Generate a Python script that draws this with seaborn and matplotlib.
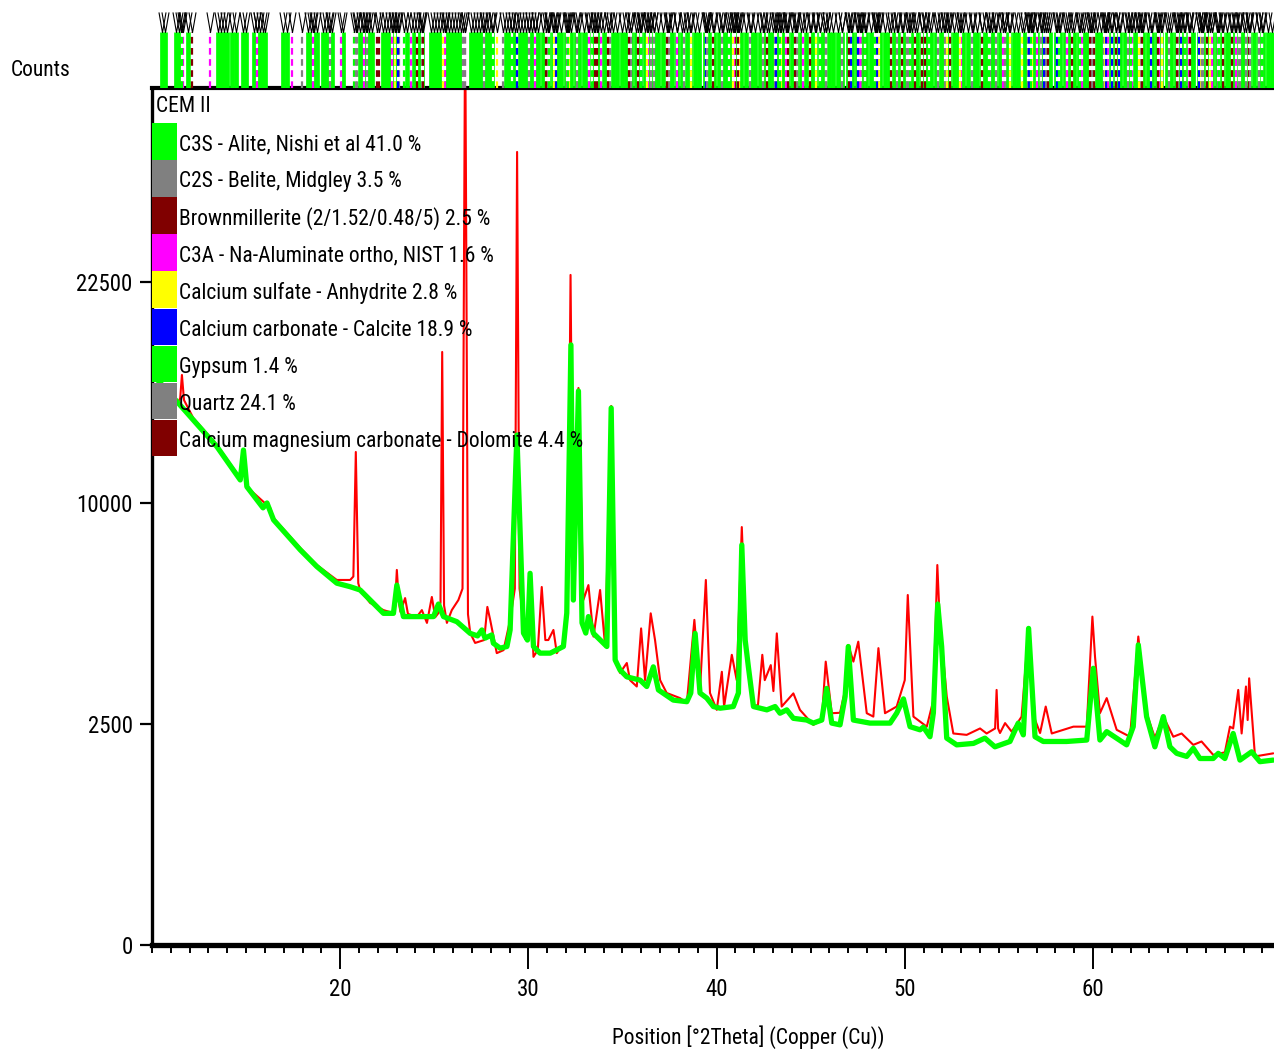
import numpy as np
import matplotlib
matplotlib.use("Agg")
import matplotlib.pyplot as plt
from matplotlib import font_manager as fm
from matplotlib.path import Path
from matplotlib.patches import Rectangle
from matplotlib.ticker import FixedLocator, MultipleLocator, NullLocator
import seaborn as sns

# ---- measured pattern (2theta in degrees, counts) ----
obs_2theta = [10.00, 11.39, 11.50, 11.59, 11.70, 12.19, 13.45, 14.69, 14.86, 15.04, 15.22, 16.28, 16.46,
              17.88, 18.76, 19.82, 20.53, 20.70, 20.83, 20.96, 21.06, 21.59, 22.30, 22.83, 22.92, 23.01,
              23.12, 23.20, 23.45, 23.60, 24.07, 24.34, 24.61, 24.87, 25.05, 25.22, 25.33, 25.42, 25.52,
              25.67, 25.93, 26.28, 26.50, 26.64, 26.79, 26.91, 27.17, 27.65, 27.82, 27.97, 28.32, 28.68,
              29.03, 29.28, 29.40, 29.53, 29.74, 29.95, 30.09, 30.27, 30.50, 30.71, 30.90, 31.06, 31.33,
              31.51, 31.86, 32.10, 32.24, 32.39, 32.66, 32.92, 33.19, 33.46, 33.81, 34.08, 34.40, 34.61,
              34.87, 35.23, 35.40, 35.76, 35.99, 36.20, 36.50, 36.73, 37.00, 37.35, 38.06, 38.42, 38.82,
              39.12, 39.43, 39.65, 40.01, 40.28, 40.40, 40.81, 41.07, 41.34, 41.60, 41.96, 42.20, 42.43,
              42.56, 42.88, 43.02, 43.20, 43.46, 44.08, 44.43, 45.14, 45.59, 45.80, 46.12, 46.56, 46.83,
              47.00, 47.27, 47.53, 47.98, 48.33, 48.60, 48.95, 49.57, 50.00, 50.16, 50.46, 51.17, 51.52,
              51.73, 51.85, 52.23, 52.58, 53.29, 54.00, 54.35, 54.80, 54.88, 54.96, 55.06, 55.33, 55.68,
              56.21, 56.58, 56.92, 57.19, 57.49, 57.81, 58.96, 59.67, 59.97, 60.11, 60.37, 60.73, 61.26,
              61.97, 62.41, 62.85, 63.29, 63.74, 64.27, 64.71, 65.33, 65.77, 66.39, 67.01, 67.28, 67.45,
              67.72, 67.90, 68.13, 68.22, 68.30, 68.61, 69.58]
obs_counts = [16700, 15040, 15320, 16630, 15200, 14220, 12800, 11160, 12440, 10780, 10600, 9780, 9330,
              8070, 7390, 6820, 6820, 6950, 12440, 6700, 6450, 5990, 5740, 5640, 6000, 7200,
              6000, 5680, 6160, 5610, 5510, 5740, 5310, 6200, 5500, 5640, 6000, 18000, 5900,
              5310, 5740, 6090, 6500, 45000, 5600, 4980, 4670, 4760, 5850, 5410, 4360, 4450,
              5410, 6500, 32190, 6500, 5410, 4760, 7120, 4250, 4450, 6560, 4760, 4760, 5080,
              4360, 4670, 6090, 22980, 6090, 15880, 6090, 6630, 4870, 6450, 4560, 14870, 4160,
              3790, 4070, 3590, 3420, 5130, 3590, 5630, 4760, 3590, 3250, 3120, 3000, 5410,
              3330, 6820, 3250, 2830, 3820, 2910, 4310, 3590, 8940, 4250, 2910, 2950, 4310,
              3590, 4010, 3300, 4970, 2910, 3240, 2830, 2480, 2590, 4110, 2750, 2760, 3330,
              4610, 4110, 4710, 2750, 2670, 4510, 2750, 2910, 3590, 6270, 2670, 2440, 3070,
              7390, 5500, 3160, 2290, 2260, 2400, 2290, 2400, 3330, 2400, 2300, 2520, 2330,
              2670, 5140, 2600, 2300, 2910, 2290, 2440, 2440, 5520, 4250, 2750, 3120, 2370,
              2220, 4870, 2750, 2200, 2670, 2220, 2290, 2050, 2120, 1850, 1900, 2440, 2400,
              3330, 2290, 3420, 2590, 3640, 1820, 1880]

# ---- calculated (fitted) pattern ----
calc_2theta = [10.00, 11.39, 12.19, 13.45, 14.69, 14.86, 15.04, 15.90, 16.11, 16.46, 17.88, 18.76, 19.82,
               20.53, 21.06, 22.30, 22.83, 23.01, 23.36, 24.96, 25.22, 25.49, 26.20, 26.91, 27.30, 27.53,
               27.70, 28.05, 28.14, 28.50, 28.86, 29.03, 29.39, 29.74, 29.95, 30.09, 30.27, 30.62, 31.16,
               31.86, 32.04, 32.26, 32.39, 32.66, 32.85, 33.05, 33.19, 33.46, 33.99, 34.17, 34.40, 34.61,
               34.87, 35.23, 35.94, 36.29, 36.64, 36.91, 37.70, 38.42, 38.63, 38.86, 39.12, 39.48, 39.83,
               40.19, 40.89, 41.16, 41.34, 41.52, 41.69, 41.96, 42.67, 43.11, 43.37, 43.73, 44.08, 44.79,
               45.14, 45.59, 45.85, 46.12, 46.56, 46.83, 47.00, 47.27, 48.15, 49.22, 49.57, 49.93, 50.28,
               50.81, 50.99, 51.34, 51.52, 51.75, 51.96, 52.23, 52.76, 53.65, 54.26, 54.79, 55.59, 56.03,
               56.30, 56.58, 56.92, 57.36, 58.60, 59.67, 60.02, 60.37, 60.73, 61.79, 62.14, 62.41, 62.85,
               63.29, 63.74, 64.09, 64.45, 64.98, 65.33, 65.68, 66.39, 66.66, 67.01, 67.45, 67.81, 68.43,
               68.87, 69.58]
calc_counts = [16700, 15040, 14110, 12710, 11070, 12540, 10750, 9780, 10000, 9250, 7990, 7330, 6700,
               6570, 6450, 5630, 5630, 6630, 5520, 5520, 5950, 5520, 5350, 4970, 4890, 5080,
               4820, 4920, 4660, 4510, 4560, 5080, 13310, 4980, 4760, 7070, 4560, 4360, 4360,
               4560, 5640, 18430, 6090, 15710, 5310, 4980, 5520, 4970, 4660, 4560, 14760, 4160,
               3870, 3680, 3590, 3420, 3960, 3330, 3070, 3030, 3250, 4970, 3250, 3120, 2910,
               2870, 2910, 3250, 8190, 4760, 3960, 2910, 2830, 2910, 2750, 2830, 2630, 2590,
               2520, 2590, 3370, 2520, 2480, 3160, 4560, 2590, 2520, 2520, 2750, 3100, 2440,
               2370, 2430, 2220, 2760, 5950, 4560, 2190, 2050, 2080, 2190, 2010, 2120, 2520,
               2260, 5130, 2220, 2120, 2120, 2150, 3920, 2150, 2330, 2050, 2440, 4610, 2670,
               2010, 2670, 2010, 1880, 1820, 1980, 1780, 1780, 1880, 1780, 2290, 1750, 1910,
               1720, 1750]

# ---- phases and reference stick positions (2theta) ----
sample_name = "CEM II"
phase_names = ["C3S - Alite, Nishi et al", "C2S - Belite, Midgley", "Brownmillerite (2/1.52/0.48/5)",
               "C3A - Na-Aluminate ortho, NIST", "Calcium sulfate - Anhydrite",
               "Calcium carbonate - Calcite", "Gypsum", "Quartz",
               "Calcium magnesium carbonate - Dolomite"]
phase_pct = [41.0, 3.5, 2.5, 1.6, 2.8, 18.9, 1.4, 24.1, 4.4]

alite_sticks = [10.55, 10.71, 11.25, 11.42, 11.56, 11.92, 13.50, 13.66, 13.84, 14.00, 14.25, 14.45,
                14.82, 15.02, 15.40, 15.56, 15.72, 15.88, 16.02, 16.98, 17.16, 18.30, 18.46, 18.62,
                18.78, 19.10, 19.26, 19.42, 19.58, 20.15, 21.05, 21.20, 21.36, 21.52, 21.68, 22.30,
                22.46, 22.62, 22.78, 22.94, 23.55, 23.90, 24.06, 24.22, 24.36, 24.80, 24.96, 25.12,
                25.28, 25.60, 25.76, 25.92, 26.08, 26.24, 26.40, 26.95, 27.11, 27.27, 27.43, 27.59,
                27.75, 27.91, 28.07, 28.80, 28.96, 29.12, 29.28, 29.56, 29.72, 29.88, 30.04, 30.20,
                30.36, 30.52, 30.80, 31.03, 31.31, 31.52, 31.74, 32.02, 32.24, 32.51, 32.70, 32.96,
                33.18, 33.47, 33.71, 34.02, 34.24, 34.47, 34.69, 34.96, 35.21, 35.43, 35.71, 35.94,
                36.21, 36.44, 36.67, 36.89, 37.16, 37.41, 37.63, 37.91, 38.14, 38.42, 38.61, 38.86,
                39.08, 39.36, 39.61, 39.84, 40.11, 40.33, 40.57, 40.79, 41.06, 41.31, 41.54, 41.82,
                42.03, 42.31, 42.54, 42.81, 43.02, 43.24, 43.52, 43.74, 44.01, 44.24, 44.51, 44.73,
                45.02, 45.24, 45.51, 45.71, 45.96, 46.19, 46.46, 46.69, 46.96, 47.21, 47.44, 47.71,
                47.94, 48.21, 48.44, 48.71, 48.94, 49.16, 49.41, 49.64, 49.91, 50.14, 50.41, 50.64,
                50.91, 51.14, 51.41, 51.64, 51.91, 52.11, 52.34, 52.61, 52.84, 53.11, 53.34, 53.61,
                53.84, 54.11, 54.34, 54.61, 54.81, 55.04, 55.31, 55.54, 55.81, 56.04, 56.31, 56.54,
                56.81, 57.04, 57.31, 57.51, 57.74, 58.01, 58.24, 58.51, 58.74, 59.01, 59.24, 59.51,
                59.74, 59.96, 60.21, 60.44, 60.71, 60.94, 61.21, 61.44, 61.71, 61.94, 62.21, 62.41,
                62.64, 62.91, 63.14, 63.41, 63.64, 63.91, 64.14, 64.41, 64.64, 64.86, 65.11, 65.34,
                65.61, 65.84, 66.11, 66.34, 66.61, 66.84, 67.11, 67.31, 67.54, 67.81, 68.04, 68.31,
                68.54, 68.81, 69.04, 69.31, 69.54]
belite_sticks = [17.95, 19.45, 20.90, 21.45, 23.10, 24.35, 26.50, 27.65, 28.65, 30.05, 31.05, 32.05,
                 32.60, 33.20, 34.35, 35.45, 36.70, 37.45, 38.25, 39.50, 41.20, 41.75, 43.10, 44.30,
                 45.80, 46.65, 47.65, 49.60, 50.25, 51.75, 52.15, 53.55, 54.55, 55.35, 56.55, 57.50,
                 58.60, 59.90, 60.60, 61.85, 62.55, 63.65, 64.50, 65.85, 66.65, 67.80, 68.80]
brownmillerite_sticks = [12.12, 21.97, 24.41, 33.65, 34.25, 35.80, 39.80, 41.00, 42.70, 44.15, 47.05,
                         47.90, 49.85, 50.90, 52.40, 54.10, 57.60, 60.05, 61.20, 62.60, 64.90, 66.90, 68.30]
c3a_sticks = [11.65, 13.10, 15.60, 17.45, 18.55, 20.05, 21.25, 22.75, 23.75, 25.55, 26.65, 30.35,
              33.20, 33.85, 36.35, 37.90, 40.90, 43.70, 44.60, 47.60, 48.45, 50.30, 53.00, 55.20,
              57.00, 58.60, 59.40, 60.80, 62.10, 63.50, 65.10, 66.30, 67.60, 69.00]
anhydrite_sticks = [22.90, 25.45, 28.35, 31.35, 32.15, 36.30, 38.65, 40.85, 41.20, 43.40, 45.30, 48.65,
                    52.25, 52.95, 55.60, 56.25, 56.75, 60.65, 62.45, 63.65, 65.75, 66.20]
calcite_sticks = [23.05, 29.40, 31.45, 36.00, 39.42, 43.17, 47.13, 47.51, 48.53, 56.58, 57.42, 58.10,
                  60.69, 61.00, 61.38, 63.08, 64.70, 65.64]
gypsum_sticks = [11.60, 20.73, 23.40, 28.10, 29.13, 31.12, 32.10, 33.38, 35.96, 40.65, 43.37, 45.50,
                 47.90, 48.40, 50.30, 51.30, 54.50, 56.70, 58.20, 59.30, 62.00, 64.90, 66.70, 69.00]
quartz_sticks = [20.86, 26.64, 36.54, 39.47, 40.29, 42.45, 45.79, 50.14, 54.87, 55.33, 57.24, 59.96,
                 64.04, 65.79, 67.75, 68.15, 68.32]
dolomite_sticks = [22.04, 24.06, 30.94, 33.54, 35.35, 37.37, 41.13, 43.81, 44.95, 49.27, 50.56, 51.07,
                   58.89, 59.86, 63.44, 64.48, 65.14, 66.05, 67.39]

# ---- styling ----
phase_colors = ["#00ff00", "#808080", "#800000", "#ff00ff", "#ffff00",
                "#0000ff", "#00ff00", "#808080", "#800000"]
phase_sticks = [alite_sticks, belite_sticks, brownmillerite_sticks, c3a_sticks, anhydrite_sticks,
                calcite_sticks, gypsum_sticks, quartz_sticks, dolomite_sticks]


def narrow_font():
    """Return (family, stretch) for the narrowest sans-serif face available."""
    for fam in ["Liberation Sans Narrow", "Arial Narrow", "Noto Sans Condensed",
                "Roboto Condensed", "Open Sans Condensed", "DejaVu Sans Condensed"]:
        try:
            fm.findfont(fm.FontProperties(family=fam), fallback_to_default=False)
            return fam, "normal"
        except ValueError:
            pass
    for fam in ["Noto Sans", "Open Sans", "Roboto", "DejaVu Sans"]:
        try:
            path = fm.findfont(fm.FontProperties(family=fam, stretch="condensed"),
                               fallback_to_default=False)
        except ValueError:
            continue
        if "ondensed" in path or "arrow" in path:
            return fam, "condensed"
    return "Liberation Sans", "normal"


sns.set_theme(style="white")
font_family, font_stretch = narrow_font()
plt.rcParams["font.family"] = [font_family, "DejaVu Sans"]
plt.rcParams["font.stretch"] = font_stretch
plt.rcParams["axes.facecolor"] = "white"

TEXT_SIZE = 15.5
TICK_SIZE = 16.5

W, H = 1274, 1053
fig = plt.figure(figsize=(W / 100, H / 100), dpi=100)


def fx(px):
    return px / W


def fy(py):
    return 1 - py / H


ax = fig.add_axes([fx(152), fy(945), fx(1274) - fx(152), fy(88) - fy(945)])
ax_top = fig.add_axes([fx(152), fy(88), fx(1274) - fx(152), fy(12) - fy(88)], sharex=ax)

# square-root intensity axis
ax.set_yscale("function", functions=(lambda y: np.sqrt(np.clip(y, 0, None)), lambda y: np.square(y)))

sns.lineplot(x=obs_2theta, y=obs_counts, ax=ax, color="#ff0000", linewidth=1.5,
             sort=False, estimator=None, legend=False)
sns.lineplot(x=calc_2theta, y=calc_counts, ax=ax, color="#00ff00", linewidth=3.8,
             sort=False, estimator=None, legend=False)

ax.set_xlim(10.0, 69.62)
ax.set_ylim(0, 37590)

ax.yaxis.set_major_locator(FixedLocator([0, 2500, 10000, 22500]))
ax.set_yticklabels(["0", "2500", "10000", "22500"])
ax.yaxis.set_minor_locator(NullLocator())
ax.xaxis.set_major_locator(FixedLocator([20, 30, 40, 50, 60]))
ax.xaxis.set_minor_locator(MultipleLocator(1))

ax.tick_params(axis="y", which="major", direction="out", length=9, width=1.6,
               labelsize=TICK_SIZE, pad=5, colors="black", left=True)
ax.tick_params(axis="x", which="major", direction="out", length=17, width=1.4,
               labelsize=TICK_SIZE, pad=7, colors="black", bottom=True)
ax.tick_params(axis="x", which="minor", direction="out", length=6, width=1.4,
               colors="black", bottom=True)

for side, lw in [("bottom", 3.8), ("left", 2.4), ("top", 3.0)]:
    ax.spines[side].set_linewidth(lw)
    ax.spines[side].set_color("black")
    ax.spines[side].set_capstyle("projecting")
ax.spines["right"].set_visible(False)
ax.grid(False)

ax.set_xlabel("Position [°2Theta] (Copper (Cu))", fontsize=TEXT_SIZE, color="black")
ax.xaxis.set_label_coords(0.531, -0.094)
ax.set_ylabel("Counts", fontsize=TEXT_SIZE, color="black", rotation=0, ha="left", va="center")
ax.yaxis.set_label_coords(-0.126, 1.0205)

# reference stick panel above the pattern
ax_top.set_ylim(0, 1)
ax_top.axis("off")
stick_top = 56 / 76
ax_top.vlines(alite_sticks, 0, stick_top, colors=phase_colors[0], linewidth=3.4)
for sticks, col in zip(phase_sticks[1:], phase_colors[1:]):
    ax_top.vlines(sticks, 0, stick_top, colors=col, linewidth=1.6,
                  linestyles=(0, (3, 2)), gapcolor="white")

vee = Path([(-0.35, 1.0), (0.0, -1.0), (0.35, 1.0)], [Path.MOVETO, Path.LINETO, Path.LINETO])
all_sticks = sorted(set(s for group in phase_sticks for s in group))
ax_top.plot(all_sticks, [0.868] * len(all_sticks), linestyle="none", marker=vee,
            markersize=14.5, markeredgecolor="black", markerfacecolor="none", markeredgewidth=0.8)

# phase legend drawn over the pattern
fig.text(fx(156), fy(106), sample_name, fontsize=TEXT_SIZE, ha="left", va="center",
         color="black", zorder=10)
row_h = 37.1
for i, (name, pct, col) in enumerate(zip(phase_names, phase_pct, phase_colors)):
    top = 123 + row_h * i
    fig.add_artist(Rectangle((fx(152), fy(top + row_h - 0.5)), fx(177) - fx(152),
                             fy(top) - fy(top + row_h - 0.5), transform=fig.transFigure,
                             facecolor=col, edgecolor="none", zorder=9))
    fig.text(fx(179), fy(top + row_h / 2 + 3), f"{name} {pct:.1f} %", fontsize=TEXT_SIZE,
             ha="left", va="center", color="black", zorder=10)

fig.savefig("out.png", dpi=100)
